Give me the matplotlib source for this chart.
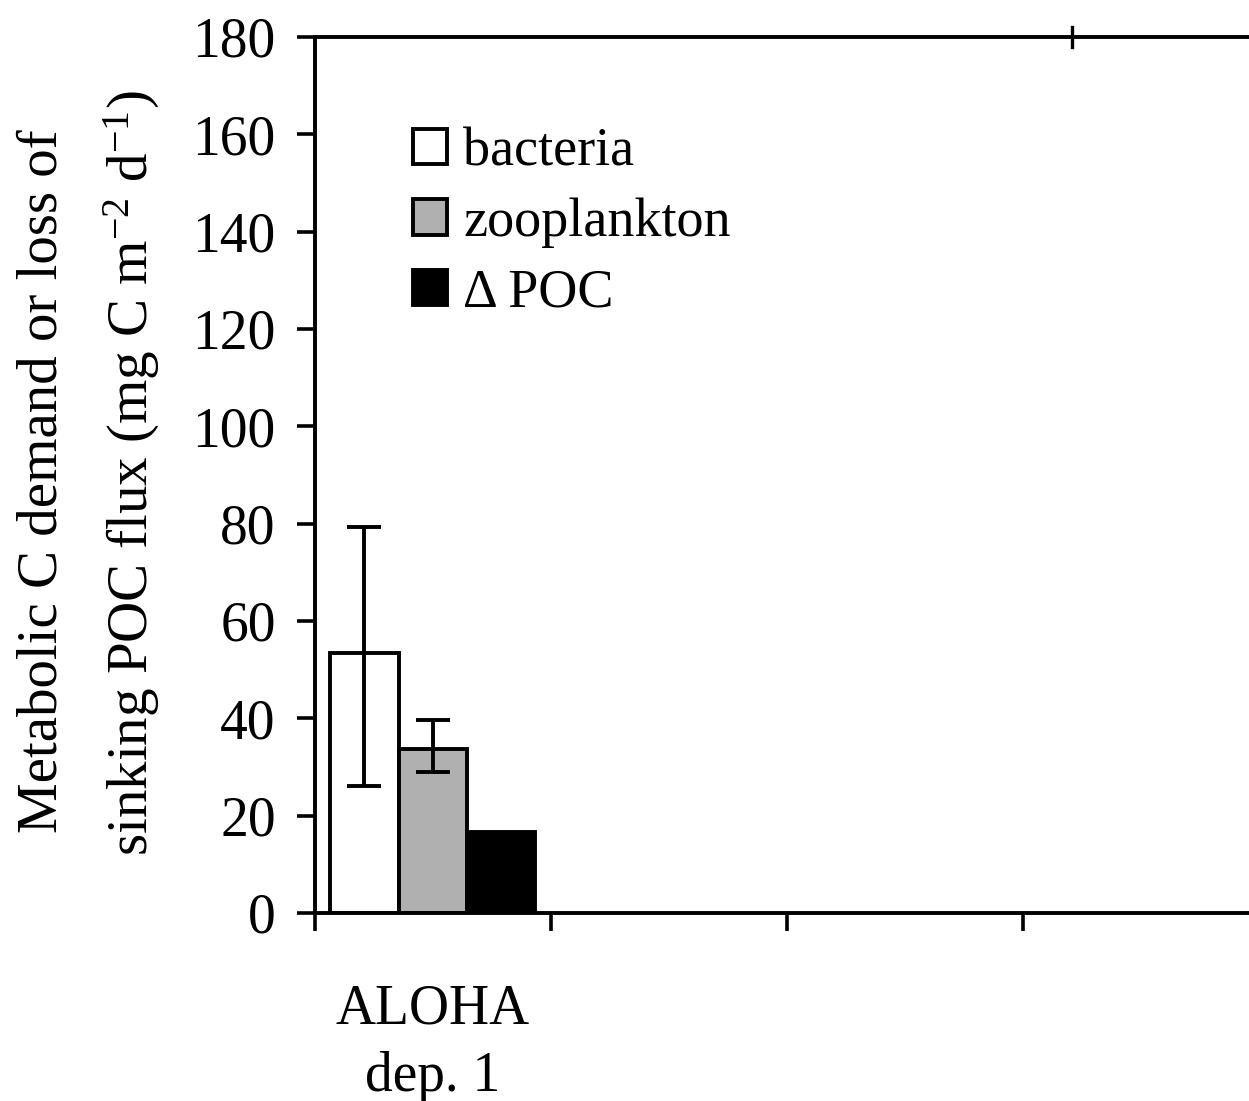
import numpy as np
import matplotlib
matplotlib.use('Agg')
from matplotlib import pyplot as plt

plt.rcParams['font.family'] = ['Liberation Serif', 'DejaVu Serif']
plt.rcParams['mathtext.fontset'] = 'custom'
plt.rcParams['mathtext.rm'] = 'Liberation Serif'
plt.rcParams['mathtext.it'] = 'Liberation Serif'

# data
sites = ['ALOHA\ndep. 1', '', '', '']
series = ['bacteria', 'zooplankton', '\u0394 POC']
colors = ['white', '#b0b0b0', 'black']
values = [53.4, 33.7, 16.6]
err_low = [26.1, 29.0, None]
err_high = [79.3, 39.7, None]

fig = plt.figure(figsize=(12.49, 11.01), dpi=100)
ax = fig.add_axes([0.252, 0.1708, 0.748, 0.7956])

w = 0.29
for i, (name, c, v) in enumerate(zip(series, colors, values)):
    x = 0.5 + (i - 1) * w
    ax.bar(x, v, width=w, color=c, edgecolor='black', linewidth=2.8, label=name)
    if err_low[i] is not None:
        ax.errorbar(x, v, yerr=[[v - err_low[i]], [err_high[i] - v]], fmt='none',
                    ecolor='black', elinewidth=2.8, capsize=12, capthick=2.8)

ax.set_xlim(0, 3.96)
ax.set_ylim(0, 180)
ax.set_yticks(np.arange(0, 181, 20))
ax.set_xticks([0, 1, 2, 3])
ax.set_xticklabels([])
for s in ['top', 'left', 'bottom']:
    ax.spines[s].set_linewidth(2.8)
ax.spines['right'].set_visible(False)
ax.tick_params(axis='y', direction='out', length=13, width=2.6, labelsize=40, pad=15)
ax.tick_params(axis='x', direction='out', length=13, width=2.6)

# stray tick on the top border
ax.plot([3.21, 3.21], [178.0, 182.0], color='black', lw=2.4, clip_on=False)

ax.text(0.5, -14.5, sites[0], ha='center', va='top', fontsize=40, linespacing=1.38)

fig.text(0.034, 0.563, 'Metabolic C demand or loss of', rotation=90,
         ha='center', va='center', fontsize=41)
fig.text(0.106, 0.57, r'sinking POC flux (mg C m$^{-2}$ d$^{-1}$)', rotation=90,
         ha='center', va='center', fontsize=41)

ax.legend(loc='upper left', bbox_to_anchor=(0.105, 0.897), frameon=False,
          fontsize=39, handlelength=0.63, handleheight=0.63, handletextpad=0.3,
          labelspacing=0.37, borderaxespad=0, borderpad=0)

fig.savefig('out.png', dpi=100)
